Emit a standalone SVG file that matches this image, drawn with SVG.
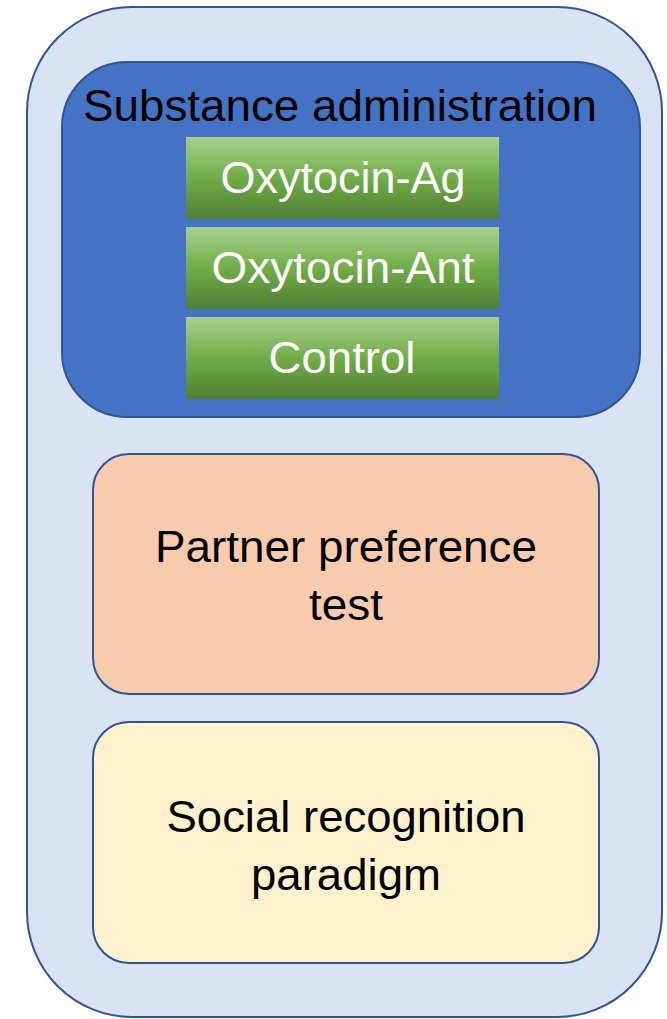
<svg xmlns="http://www.w3.org/2000/svg" width="667" height="1019" viewBox="0 0 667 1019">
<style>
.box{stroke:#2f5597;stroke-width:2}
.t{font-family:"Liberation Sans",Arial,sans-serif;font-size:45px;text-anchor:middle}
.w{fill:#ffffff}
.k{fill:#000000}
</style>
<defs>
<linearGradient id="g" x1="0" y1="0" x2="0" y2="1">
<stop offset="0" stop-color="#a9d18e"/>
<stop offset="0.5" stop-color="#70ad47"/>
<stop offset="1" stop-color="#507e32"/>
</linearGradient>
</defs>
<g id="outer"><rect class="box" x="27" y="7" width="635" height="1010" rx="105" ry="105" fill="#dae3f3"/></g>
<g id="substance">
<rect class="box" x="62" y="62" width="578" height="355" rx="65" ry="65" fill="#4472c4"/>
<text class="t k" x="340" y="121" textLength="514" lengthAdjust="spacingAndGlyphs">Substance administration</text>
</g>
<g id="ag"><rect x="186" y="137" width="313" height="82" fill="url(#g)"/><text class="t w" x="343" y="193" textLength="245" lengthAdjust="spacingAndGlyphs">Oxytocin-Ag</text></g>
<g id="ant"><rect x="186" y="227" width="313" height="82" fill="url(#g)"/><text class="t w" x="343" y="283" textLength="263" lengthAdjust="spacingAndGlyphs">Oxytocin-Ant</text></g>
<g id="control"><rect x="186" y="317" width="313" height="82" fill="url(#g)"/><text class="t w" x="342" y="373" textLength="147" lengthAdjust="spacingAndGlyphs">Control</text></g>
<g id="partner">
<rect class="box" x="93" y="454" width="506" height="240" rx="36" ry="36" fill="#f8cbad"/>
<text class="t k" x="346" y="562" textLength="382" lengthAdjust="spacingAndGlyphs">Partner preference</text>
<text class="t k" x="346" y="620" textLength="74" lengthAdjust="spacingAndGlyphs">test</text>
</g>
<g id="social">
<rect class="box" x="93" y="722" width="506" height="241" rx="36" ry="36" fill="#fff2cc"/>
<text class="t k" x="346" y="832" textLength="359" lengthAdjust="spacingAndGlyphs">Social recognition</text>
<text class="t k" x="346" y="890" textLength="190" lengthAdjust="spacingAndGlyphs">paradigm</text>
</g>
<g id="connectors"/>
</svg>
